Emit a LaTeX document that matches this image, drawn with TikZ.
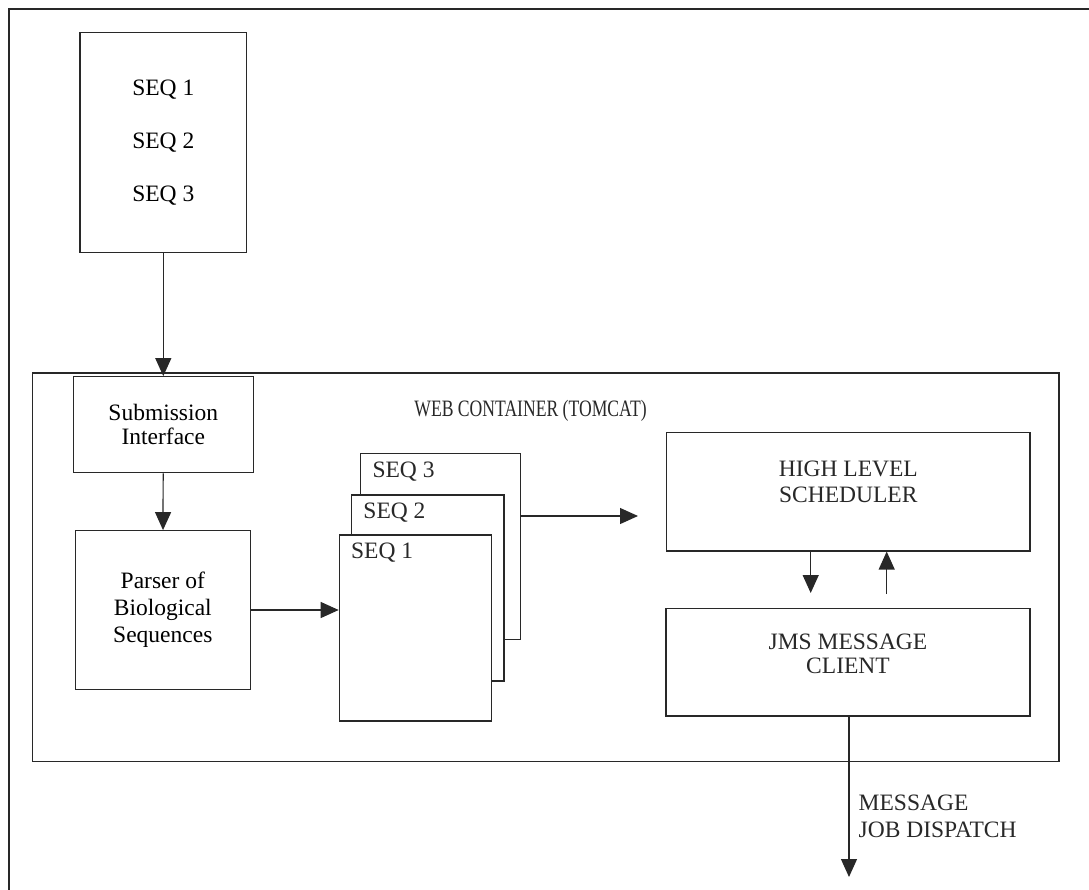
\documentclass[tikz,border=0pt]{standalone}
\usepackage{fontspec}
\setmainfont{Liberation Serif}
\newfontfamily\titlefont[FakeStretch=0.75]{Liberation Serif}
\usepackage{tikz}
\usetikzlibrary{arrows.meta, positioning, calc}
\definecolor{inkgray}{RGB}{40, 40, 40}

\begin{document}
\begin{tikzpicture}[x=0.5pt, y=-0.5pt, >={Triangle[length=9pt, width=8pt]},
  block/.style={draw=inkgray, line width=0.6pt, inner sep=0pt, align=center,
                font=\fontsize{11.75}{13.5}\selectfont},
  caption/.style={inner sep=0pt, align=center, text=inkgray},
  seqtag/.style={inner sep=0pt, anchor=north west, text=inkgray,
                 font=\fontsize{11.75}{13.5}\selectfont},
  flow/.style={->, draw=inkgray, line width=0.6pt}]
  \useasboundingbox (0,0) rectangle (1089,890);

  % Outer frame (cut at right and bottom)
  \draw[inkgray, line width=0.9pt] (9,890) |- (1089,9);

  % Web container
  \node[block, minimum width=513.35pt, minimum height=194.35pt] (web) at (545.7,567.4) {};
  \node[caption, font=\titlefont\fontsize{11.75}{13.5}\selectfont, anchor=base] (webtitle) at (530.5,416) {WEB CONTAINER (TOMCAT)};

  % Input sequences
  \node[block, minimum width=83.35pt, minimum height=110pt,
        font=\fontsize{11.75}{26.5}\selectfont] (seqlist) at (163.3,142.3) {SEQ 1\\SEQ 2\\SEQ 3};

  % Left column
  \node[block, minimum width=90pt, minimum height=48pt, font=\fontsize{11.75}{12}\selectfont]
    (submit) at (163.3,424.7) {Submission\\Interface};
  \node[block, minimum width=87.5pt, minimum height=79.3pt]
    (parser) at (162.8,610) {Parser of\\Biological\\Sequences};

  % Stacked sequence pages
  \node[block, fill=white, minimum width=80pt, minimum height=93pt] (seqC) at (440.7,546.3) {};
  \node[block, fill=white, minimum width=76.15pt, minimum height=93pt] (seqB) at (427.8,588) {};
  \node[block, fill=white, minimum width=76.2pt, minimum height=93pt] (seqA) at (415.5,628) {};
  \node[seqtag] (tagC) at ([shift={(12,8.5)}]seqC.north west) {SEQ 3};
  \node[seqtag] (tagB) at ([shift={(12,8.5)}]seqB.north west) {SEQ 2};
  \node[seqtag] (tagA) at ([shift={(12,8.5)}]seqA.north west) {SEQ 1};

  % Right column
  \node[block, minimum width=181.65pt, minimum height=59.15pt] (hls) at (848.3,491.8) {};
  \node[caption, font=\fontsize{11.75}{13}\selectfont] (hlstext) at (848.3,482) {HIGH LEVEL\\SCHEDULER};
  \node[block, minimum width=182pt, minimum height=53.85pt] (jms) at (848,662.2) {};
  \node[caption, font=\fontsize{11.75}{12}\selectfont] (jmstext) at (848,654) {JMS MESSAGE\\CLIENT};

  % Connectors
  \coordinate (toHls) at (638,516);
  \coordinate (down) at (810.7,593);
  \coordinate (up) at (886.7,594);
  \coordinate (dispatch) at (849,877);
  \draw[flow] (seqlist) -- (submit);
  \draw[flow] (submit) -- (parser);
  \draw[flow] (parser) -- (parser -| seqA.west);
  \draw[flow] (seqC.east |- toHls) -- (toHls);
  \draw[flow] (hls.south -| down) -- (down);
  \draw[flow] (up) -- (up |- hls.south);
  \draw[flow] (jms.south -| dispatch) -- (dispatch);
  \node[caption, anchor=north west, align=left, font=\fontsize{11.75}{13.5}\selectfont]
    (msglabel) at (858.3,794.3) {MESSAGE\\JOB DISPATCH};
\end{tikzpicture}
\end{document}
